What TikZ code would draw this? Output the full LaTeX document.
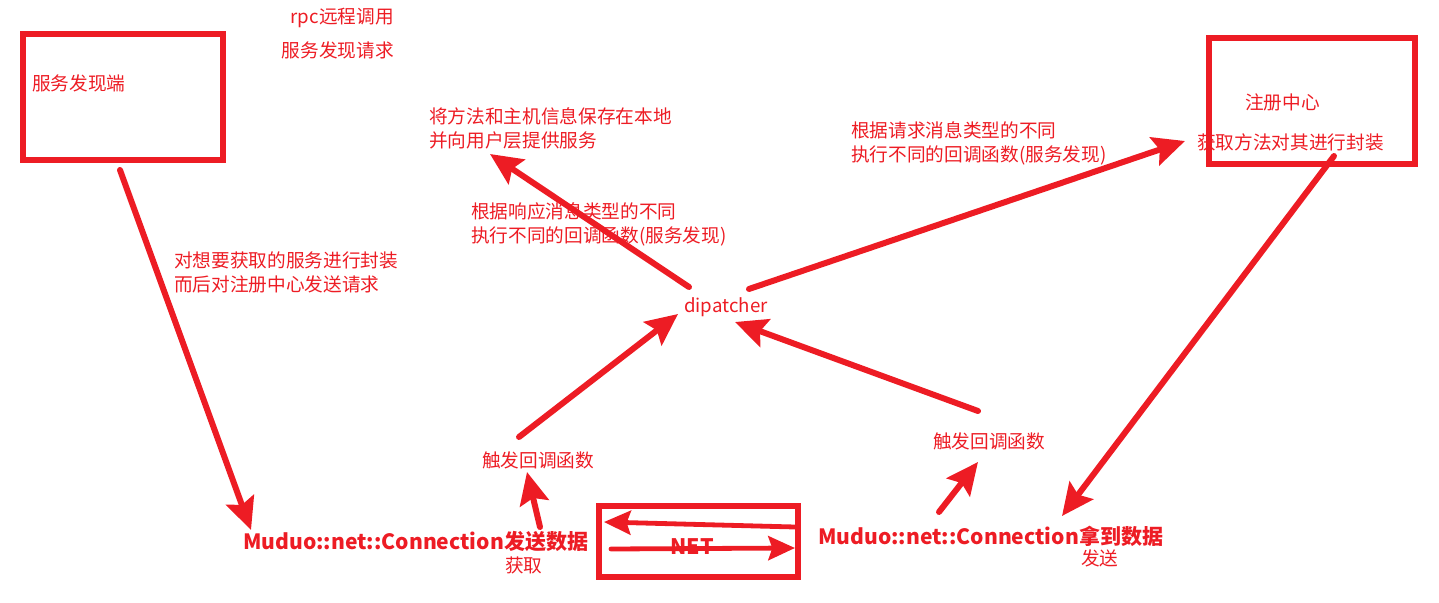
\documentclass[tikz,border=0pt]{standalone}
\usepackage{fontspec}
\setmainfont{Noto Sans CJK SC}
\usetikzlibrary{arrows.meta}
\definecolor{pred}{HTML}{ED1C24}
\begin{document}
\begin{tikzpicture}[x=0.75pt,y=-0.75pt,
  txt/.style={text=pred,font=\fontsize{14pt}{18pt}\selectfont,inner sep=0pt,anchor=west,align=left},
  bigtxt/.style={text=pred,font=\fontsize{15.8pt}{19pt}\selectfont\bfseries,inner sep=0pt,anchor=west},
  frame/.style={draw=pred,line width=3.8pt,inner sep=0pt},
  arr/.style={draw=pred,line width=4.5pt,line cap=round,-{Stealth[length=24pt,width=22pt,inset=4pt]}},
  arrs/.style={draw=pred,line width=3.6pt,line cap=round,-{Stealth[length=20pt,width=18pt,inset=3pt]}}]
\useasboundingbox (0,0) rectangle (1439,603);
% frames
\node[frame,minimum width=150pt,minimum height=94.5pt] (client) at (123,97) {};
\node[frame,minimum width=154.5pt,minimum height=94.5pt] (reg) at (1312,101) {};
\node[frame,minimum width=149.25pt,minimum height=53.25pt] (net) at (698.5,541.5) {};
% texts
\node[txt] (tclient) at (32,83) {服务发现端};
\node[txt,anchor=east] (rpc1) at (394,18) {rpc远程调用};
\node[txt,anchor=east] (rpc2) at (394,50) {服务发现请求};
\node[txt] (treg) at (1245,102) {注册中心};
\node[txt] (tget) at (1197,142) {获取方法对其进行封装};
\node[txt] (tsave) at (429,128) {将方法和主机信息保存在本地\\并向用户层提供服务};
\node[txt] (tresp) at (471,224) {根据响应消息类型的不同\\执行不同的回调函数(服务发现)};
\node[txt] (treq) at (851,143) {根据请求消息类型的不同\\执行不同的回调函数(服务发现)};
\node[txt] (tpack) at (174,272) {对想要获取的服务进行封装\\而后对注册中心发送请求};
\node[txt] (disp) at (684,307) {dipatcher};
\node[txt] (cbl) at (482,460) {触发回调函数};
\node[txt] (cbr) at (933,441) {触发回调函数};
\node[bigtxt] (mleft) at (243,542) {Muduo::net::Connection发送数据};
\node[bigtxt] (mright) at (818,536) {Muduo::net::Connection拿到数据};
\node[txt] (huoqu) at (505,565) {获取};
\node[txt] (fasong) at (1081,558) {发送};
\node[text=pred,font=\fontsize{16pt}{18pt}\selectfont\bfseries,inner sep=0pt] (tnet) at (692,547) {NET};
% coordinates for arrow ends
\coordinate (a1s) at (120,170); \coordinate (a1e) at (251,530);
\coordinate (a2s) at (540,527); \coordinate (a2e) at (527,472);
\coordinate (a3s) at (519,437); \coordinate (a3e) at (678,314);
\coordinate (a4s) at (689,287); \coordinate (a4e) at (490,154);
\coordinate (a5s) at (749,289); \coordinate (a5e) at (1185,141);
\coordinate (a6s) at (1334,156); \coordinate (a6e) at (1062,516);
\coordinate (a7s) at (978,411); \coordinate (a7e) at (735,322);
\coordinate (a8s) at (939,512); \coordinate (a8e) at (978,462);
\coordinate (n1s) at (795,527); \coordinate (n1e) at (604,522);
\coordinate (n2s) at (611,549); \coordinate (n2e) at (795,548);
% arrows
\draw[arr] (a1s) -- (a1e);
\draw[arr] (a2s) -- (a2e);
\draw[arr] (a3s) -- (a3e);
\draw[arr] (a4s) -- (a4e);
\draw[arr] (a5s) -- (a5e);
\draw[arr] (a6s) -- (a6e);
\draw[arr] (a7s) -- (a7e);
\draw[arr] (a8s) -- (a8e);
\draw[arrs] (n1s) -- (n1e);
\draw[arrs] (n2s) -- (n2e);
\end{tikzpicture}
\end{document}
